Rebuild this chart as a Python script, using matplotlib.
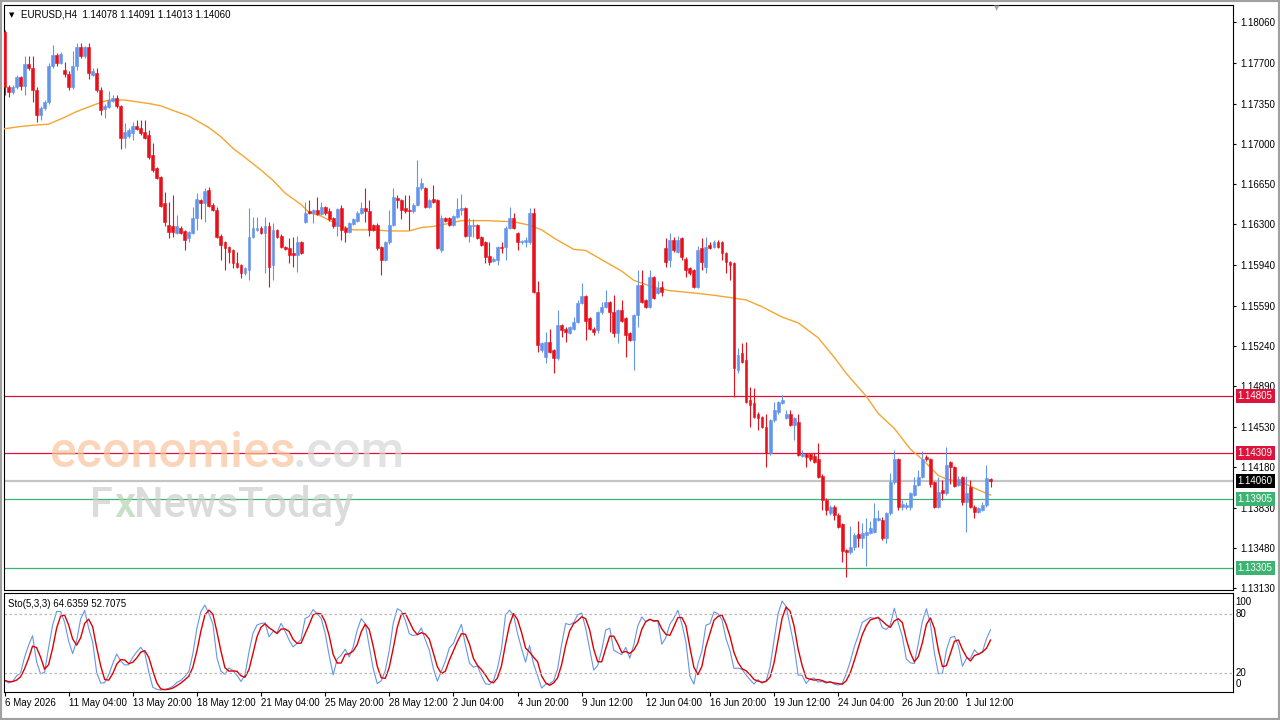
import matplotlib
matplotlib.use('Agg')
import matplotlib.pyplot as plt
import matplotlib.transforms as mtransforms
from matplotlib.patches import Rectangle
import numpy as np
import pandas as pd

plt.rcParams['font.family'] = ['Liberation Sans', 'DejaVu Sans']
plt.rcParams['font.size'] = 7

# EURUSD H4 candles, 6 May 2026 12:00 .. 2 Jul 2026 12:00
opens = [
    1.1797, 1.1749, 1.1745, 1.1749, 1.1758, 1.1750, 1.1769, 1.1766, 1.1747, 1.1725,
    1.1731, 1.1736, 1.1768, 1.1777, 1.1770, 1.1764, 1.1761, 1.1749, 1.1768, 1.1784,
    1.1776, 1.1784, 1.1760, 1.1762, 1.1747, 1.1730, 1.1732, 1.1737, 1.1740, 1.1733,
    1.1705, 1.1707, 1.1709, 1.1715, 1.1714, 1.1710, 1.1708, 1.1690, 1.1679, 1.1671,
    1.1648, 1.1629, 1.1628, 1.1622, 1.1627, 1.1624, 1.1618, 1.1622, 1.1635, 1.1651,
    1.1648, 1.1660, 1.1647, 1.1642, 1.1620, 1.1614, 1.1610, 1.1607, 1.1596, 1.1594,
    1.1587, 1.1590, 1.1619, 1.1625, 1.1627, 1.1622, 1.1628, 1.1594, 1.1625, 1.1620,
    1.1610, 1.1609, 1.1605, 1.1603, 1.1614, 1.1632, 1.1641, 1.1640, 1.1642, 1.1639,
    1.1645, 1.1641, 1.1635, 1.1628, 1.1644, 1.1627, 1.1623, 1.1630, 1.1633, 1.1640,
    1.1644, 1.1641, 1.1629, 1.1629, 1.1610, 1.1599, 1.1614, 1.1629, 1.1653, 1.1651,
    1.1644, 1.1642, 1.1641, 1.1647, 1.1661, 1.1661, 1.1645, 1.1652, 1.1651, 1.1607,
    1.1635, 1.1635, 1.1629, 1.1636, 1.1642, 1.1644, 1.1620, 1.1628, 1.1629, 1.1619,
    1.1614, 1.1602, 1.1598, 1.1599, 1.1610, 1.1610, 1.1627, 1.1635, 1.1622, 1.1614,
    1.1614, 1.1614, 1.1640, 1.1571, 1.1520, 1.1514, 1.1527, 1.1520, 1.1513, 1.1542,
    1.1539, 1.1535, 1.1539, 1.1545, 1.1561, 1.1567, 1.1548, 1.1539, 1.1538, 1.1553,
    1.1558, 1.1562, 1.1553, 1.1535, 1.1555, 1.1548, 1.1535, 1.1529, 1.1551, 1.1577,
    1.1564, 1.1558, 1.1584, 1.1570, 1.1575, 1.1609, 1.1599, 1.1616, 1.1606, 1.1618,
    1.1600, 1.1592, 1.1590, 1.1575, 1.1609, 1.1593, 1.1612, 1.1610, 1.1614, 1.1614,
    1.1605, 1.1597, 1.1596, 1.1503, 1.1518, 1.1512, 1.1477, 1.1474, 1.1465, 1.1462,
    1.1453, 1.1431, 1.1459, 1.1466, 1.1474, 1.1461, 1.1465, 1.1455, 1.1458, 1.1428,
    1.1430, 1.1430, 1.1428, 1.1425, 1.1411, 1.1390, 1.1378, 1.1384, 1.1377, 1.1369,
    1.1346, 1.1344, 1.1349, 1.1360, 1.1357, 1.1359, 1.1361, 1.1362, 1.1372, 1.1372,
    1.1357, 1.1378, 1.1405, 1.1425, 1.1384, 1.1384, 1.1384, 1.1394, 1.1403, 1.1410,
    1.1427, 1.1425, 1.1405, 1.1384, 1.1398, 1.1396, 1.1423, 1.1418, 1.1403, 1.1410,
    1.1388, 1.1401, 1.1384, 1.1379, 1.1381, 1.1385, 1.14078,
]
highs = [
    1.1799, 1.1751, 1.1751, 1.1760, 1.1759, 1.1776, 1.1776, 1.1776, 1.1749, 1.1733,
    1.1738, 1.1770, 1.1786, 1.1779, 1.1780, 1.1771, 1.1763, 1.1781, 1.1788, 1.1788,
    1.1785, 1.1788, 1.1766, 1.1766, 1.1749, 1.1735, 1.1746, 1.1742, 1.1742, 1.1734,
    1.1718, 1.1714, 1.1719, 1.1721, 1.1721, 1.1721, 1.1712, 1.1701, 1.1680, 1.1672,
    1.1658, 1.1649, 1.1655, 1.1638, 1.1628, 1.1625, 1.1624, 1.1645, 1.1657, 1.1652,
    1.1661, 1.1662, 1.1648, 1.1645, 1.1621, 1.1615, 1.1611, 1.1608, 1.1606, 1.1595,
    1.1593, 1.1644, 1.1636, 1.1636, 1.1628, 1.1636, 1.1632, 1.1631, 1.1626, 1.1621,
    1.1611, 1.1618, 1.1619, 1.1620, 1.1615, 1.1649, 1.1651, 1.1643, 1.1654, 1.1649,
    1.1646, 1.1644, 1.1636, 1.1644, 1.1647, 1.1628, 1.1632, 1.1635, 1.1641, 1.1649,
    1.1661, 1.1651, 1.1630, 1.1631, 1.1611, 1.1615, 1.1642, 1.1661, 1.1655, 1.1652,
    1.1655, 1.1655, 1.1648, 1.1686, 1.1670, 1.1662, 1.1652, 1.1664, 1.1652, 1.1638,
    1.1636, 1.1636, 1.1638, 1.1653, 1.1656, 1.1645, 1.1635, 1.1634, 1.1630, 1.1620,
    1.1615, 1.1614, 1.1601, 1.1611, 1.1614, 1.1628, 1.1645, 1.1640, 1.1623, 1.1616,
    1.1619, 1.1644, 1.1644, 1.1580, 1.1527, 1.1536, 1.1539, 1.1521, 1.1555, 1.1543,
    1.1540, 1.1541, 1.1549, 1.1564, 1.1579, 1.1568, 1.1549, 1.1540, 1.1554, 1.1562,
    1.1573, 1.1563, 1.1568, 1.1556, 1.1564, 1.1549, 1.1536, 1.1552, 1.1590, 1.1590,
    1.1565, 1.1590, 1.1585, 1.1580, 1.1580, 1.1618, 1.1622, 1.1619, 1.1620, 1.1619,
    1.1601, 1.1593, 1.1591, 1.1611, 1.1618, 1.1619, 1.1614, 1.1616, 1.1616, 1.1615,
    1.1606, 1.1598, 1.1597, 1.1522, 1.1526, 1.1527, 1.1488, 1.1487, 1.1466, 1.1463,
    1.1465, 1.1460, 1.1475, 1.1476, 1.1481, 1.1468, 1.1468, 1.1462, 1.1465, 1.1433,
    1.1431, 1.1431, 1.1431, 1.1439, 1.1412, 1.1391, 1.1385, 1.1385, 1.1378, 1.1370,
    1.1347, 1.1367, 1.1361, 1.1371, 1.1370, 1.1374, 1.1371, 1.1387, 1.1381, 1.1375,
    1.1379, 1.1413, 1.1433, 1.1426, 1.1390, 1.1388, 1.1397, 1.1410, 1.1416, 1.1432,
    1.1429, 1.1426, 1.1406, 1.1410, 1.1407, 1.1436, 1.1424, 1.1419, 1.1411, 1.1411,
    1.1411, 1.1407, 1.1385, 1.1384, 1.1388, 1.1420, 1.14091,
]
lows = [
    1.1742, 1.1741, 1.1743, 1.1748, 1.1747, 1.1742, 1.1764, 1.1736, 1.1719, 1.1721,
    1.1729, 1.1735, 1.1766, 1.1768, 1.1769, 1.1758, 1.1747, 1.1748, 1.1764, 1.1775,
    1.1775, 1.1756, 1.1759, 1.1745, 1.1725, 1.1722, 1.1731, 1.1736, 1.1731, 1.1695,
    1.1696, 1.1705, 1.1703, 1.1712, 1.1708, 1.1704, 1.1687, 1.1675, 1.1669, 1.1645,
    1.1628, 1.1618, 1.1619, 1.1621, 1.1621, 1.1607, 1.1614, 1.1621, 1.1625, 1.1634,
    1.1632, 1.1645, 1.1641, 1.1618, 1.1599, 1.1590, 1.1596, 1.1592, 1.1592, 1.1583,
    1.1586, 1.1581, 1.1618, 1.1624, 1.1621, 1.1587, 1.1575, 1.1581, 1.1618, 1.1609,
    1.1607, 1.1596, 1.1593, 1.1588, 1.1604, 1.1631, 1.1639, 1.1631, 1.1638, 1.1638,
    1.1638, 1.1633, 1.1627, 1.1620, 1.1616, 1.1614, 1.1622, 1.1629, 1.1632, 1.1639,
    1.1632, 1.1620, 1.1624, 1.1607, 1.1586, 1.1598, 1.1613, 1.1628, 1.1644, 1.1634,
    1.1640, 1.1625, 1.1640, 1.1646, 1.1660, 1.1644, 1.1644, 1.1648, 1.1608, 1.1606,
    1.1632, 1.1628, 1.1628, 1.1635, 1.1638, 1.1619, 1.1614, 1.1619, 1.1617, 1.1611,
    1.1596, 1.1594, 1.1597, 1.1594, 1.1605, 1.1599, 1.1626, 1.1626, 1.1607, 1.1613,
    1.1610, 1.1613, 1.1570, 1.1519, 1.1519, 1.1509, 1.1518, 1.1500, 1.1512, 1.1532,
    1.1527, 1.1534, 1.1538, 1.1544, 1.1560, 1.1529, 1.1538, 1.1533, 1.1535, 1.1552,
    1.1557, 1.1536, 1.1532, 1.1526, 1.1545, 1.1514, 1.1528, 1.1503, 1.1540, 1.1561,
    1.1557, 1.1557, 1.1565, 1.1569, 1.1567, 1.1593, 1.1593, 1.1606, 1.1605, 1.1599,
    1.1584, 1.1586, 1.1574, 1.1574, 1.1590, 1.1587, 1.1608, 1.1609, 1.1609, 1.1599,
    1.1587, 1.1581, 1.1479, 1.1500, 1.1509, 1.1474, 1.1453, 1.1461, 1.1451, 1.1452,
    1.1418, 1.1429, 1.1458, 1.1465, 1.1473, 1.1460, 1.1454, 1.1442, 1.1428, 1.1427,
    1.1418, 1.1424, 1.1422, 1.1409, 1.1381, 1.1377, 1.1377, 1.1372, 1.1365, 1.1336,
    1.1323, 1.1343, 1.1346, 1.1349, 1.1348, 1.1332, 1.1360, 1.1361, 1.1371, 1.1355,
    1.1352, 1.1377, 1.1404, 1.1381, 1.1381, 1.1382, 1.1381, 1.1393, 1.1402, 1.1409,
    1.1424, 1.1401, 1.1383, 1.1383, 1.1390, 1.1394, 1.1404, 1.1401, 1.1402, 1.1385,
    1.1362, 1.1383, 1.1374, 1.1378, 1.1380, 1.1384, 1.14013,
]
closes = [
    1.1749, 1.1745, 1.1749, 1.1758, 1.1750, 1.1769, 1.1766, 1.1747, 1.1725, 1.1731,
    1.1736, 1.1768, 1.1777, 1.1770, 1.1778, 1.1761, 1.1749, 1.1768, 1.1784, 1.1776,
    1.1784, 1.1762, 1.1763, 1.1747, 1.1729, 1.1733, 1.1738, 1.1740, 1.1733, 1.1705,
    1.1710, 1.1712, 1.1715, 1.1713, 1.1709, 1.1705, 1.1688, 1.1677, 1.1670, 1.1646,
    1.1632, 1.1623, 1.1623, 1.1628, 1.1622, 1.1616, 1.1623, 1.1635, 1.1652, 1.1648,
    1.1659, 1.1646, 1.1642, 1.1619, 1.1612, 1.1609, 1.1606, 1.1596, 1.1593, 1.1587,
    1.1592, 1.1619, 1.1627, 1.1627, 1.1622, 1.1628, 1.1593, 1.1625, 1.1619, 1.1610,
    1.1608, 1.1603, 1.1603, 1.1614, 1.1605, 1.1640, 1.1640, 1.1642, 1.1639, 1.1645,
    1.1640, 1.1634, 1.1628, 1.1643, 1.1625, 1.1623, 1.1631, 1.1634, 1.1640, 1.1644,
    1.1641, 1.1625, 1.1625, 1.1609, 1.1599, 1.1614, 1.1629, 1.1654, 1.1651, 1.1642,
    1.1641, 1.1641, 1.1647, 1.1662, 1.1666, 1.1645, 1.1651, 1.1649, 1.1609, 1.1635,
    1.1633, 1.1629, 1.1637, 1.1643, 1.1644, 1.1620, 1.1629, 1.1629, 1.1618, 1.1612,
    1.1601, 1.1597, 1.1600, 1.1610, 1.1609, 1.1627, 1.1635, 1.1627, 1.1614, 1.1615,
    1.1616, 1.1640, 1.1571, 1.1525, 1.1526, 1.1527, 1.1519, 1.1513, 1.1542, 1.1538,
    1.1536, 1.1540, 1.1545, 1.1561, 1.1567, 1.1546, 1.1539, 1.1536, 1.1553, 1.1558,
    1.1562, 1.1553, 1.1535, 1.1555, 1.1546, 1.1533, 1.1529, 1.1551, 1.1577, 1.1562,
    1.1558, 1.1584, 1.1566, 1.1574, 1.1571, 1.1597, 1.1616, 1.1607, 1.1616, 1.1601,
    1.1590, 1.1587, 1.1575, 1.1607, 1.1597, 1.1610, 1.1609, 1.1614, 1.1610, 1.1605,
    1.1597, 1.1594, 1.1505, 1.1516, 1.1510, 1.1475, 1.1472, 1.1462, 1.1461, 1.1453,
    1.1431, 1.1459, 1.1468, 1.1475, 1.1477, 1.1465, 1.1455, 1.1461, 1.1429, 1.1430,
    1.1427, 1.1425, 1.1423, 1.1410, 1.1390, 1.1381, 1.1384, 1.1377, 1.1366, 1.1345,
    1.1344, 1.1349, 1.1359, 1.1357, 1.1361, 1.1362, 1.1365, 1.1374, 1.1374, 1.1357,
    1.1378, 1.1405, 1.1425, 1.1384, 1.1386, 1.1385, 1.1396, 1.1403, 1.1410, 1.1425,
    1.1425, 1.1404, 1.1384, 1.1397, 1.1396, 1.1420, 1.1418, 1.1402, 1.1408, 1.1388,
    1.1396, 1.1384, 1.1379, 1.1383, 1.1385, 1.1409, 1.14060,
]

# moving average (bar index, price)
ma_bars = [0, 4, 7, 11, 15, 18, 21, 24, 26, 30, 32, 36, 39, 42, 46, 49, 51, 54, 57, 60,
           64, 67, 70, 74, 76, 79, 84, 87, 92, 96, 101, 104, 107, 110, 114, 120, 127, 131,
           134, 137, 142, 145, 149, 154, 157, 162, 166, 172, 177, 181, 185, 189, 194, 198,
           203, 207, 210, 215, 218, 222, 226, 229, 233, 235, 239, 242, 246]
ma_values = [1.1713, 1.1715, 1.1716, 1.1717, 1.1723, 1.1728, 1.1732, 1.1736, 1.1738, 1.1738,
             1.1737, 1.1735, 1.1733, 1.1729, 1.1724, 1.1718, 1.1714, 1.1706, 1.1696, 1.1688,
             1.1677, 1.1668, 1.1657, 1.1647, 1.1640, 1.1637, 1.1628, 1.1625, 1.1625, 1.1624,
             1.1624, 1.1627, 1.1628, 1.1630, 1.1633, 1.1633, 1.1632, 1.1629, 1.1625, 1.1618,
             1.1608, 1.1607, 1.1599, 1.1589, 1.1581, 1.1575, 1.1572, 1.1570, 1.1568, 1.1566,
             1.1564, 1.1558, 1.1549, 1.1544, 1.1531, 1.1514, 1.1500, 1.1480, 1.1465, 1.1452,
             1.1434, 1.1425, 1.1411, 1.1408, 1.1405, 1.1400, 1.1394]

date_bars = [0, 16, 32, 48, 64, 80, 96, 112, 128, 144, 160, 176, 192, 208, 224, 240]
date_labels = ['6 May 2026', '11 May 04:00', '13 May 20:00', '18 May 12:00', '21 May 04:00',
               '25 May 20:00', '28 May 12:00', '2 Jun 04:00', '4 Jun 20:00', '9 Jun 12:00',
               '12 Jun 04:00', '16 Jun 20:00', '19 Jun 12:00', '24 Jun 04:00', '26 Jun 20:00',
               '1 Jul 12:00']
price_ticks = [1.18060, 1.17700, 1.17350, 1.17000, 1.16650, 1.16300, 1.15940, 1.15590,
               1.15240, 1.14890, 1.14530, 1.14180, 1.13830, 1.13480, 1.13130]
level_prices = [1.14805, 1.14309, 1.13905, 1.13305]
level_colors = ['#DC143C', '#DC143C', '#3CB371', '#3CB371']
last_price = 1.14060

BULL = '#6495ED'
BEAR = '#E8101A'

# Sto(5,3,3)
df = pd.DataFrame({'h': highs, 'l': lows, 'c': closes})
hh = df['h'].rolling(5, min_periods=1).max()
ll = df['l'].rolling(5, min_periods=1).min()
k_line = 100 * (df['c'] - ll).rolling(3, min_periods=1).sum() / (hh - ll).rolling(3, min_periods=1).sum()
d_line = k_line.rolling(3, min_periods=1).mean()

fig = plt.figure(figsize=(12.8, 7.2), dpi=100)
fig.patch.set_facecolor('white')
ax = fig.add_axes([4 / 1280, 1 - 590 / 720, 1229 / 1280, 585 / 720])
ax2 = fig.add_axes([4 / 1280, 1 - 692 / 720, 1229 / 1280, 99 / 720])
xlim = (-0.125, 306.5)

x = np.arange(len(closes))
o = np.array(opens)
c = np.array(closes)
cols = np.where(c >= o, BULL, BEAR)
ax.vlines(x, lows, highs, colors=cols, linewidth=0.8, zorder=3)
ax.bar(x, c - o, bottom=o, width=0.72, color=cols, edgecolor=cols, linewidth=0.4, zorder=3)
ax.plot(ma_bars, ma_values, color='#F5A530', linewidth=1.0, zorder=2.8)

for p, col in zip(level_prices, level_colors):
    ax.axhline(p, color=col, linewidth=0.9, zorder=2)
ax.axhline(last_price, color='#C4C4C4', linewidth=1.6, zorder=2)

ax.set_xlim(*xlim)
ax.set_ylim(1.13113, 1.18208)
ax.set_xticks([])
ax.yaxis.tick_right()
ax.set_yticks(price_ticks)
ax.set_yticklabels([f'{v:.5f}' for v in price_ticks])
ax.tick_params(axis='y', direction='out', length=2.5, width=0.8, pad=2.5, labelsize=7, colors='black')
for s in ax.spines.values():
    s.set_linewidth(0.8)
    s.set_color('black')

trans = mtransforms.blended_transform_factory(ax.transAxes, ax.transData)
for p, col in list(zip(level_prices, level_colors)) + [(last_price, 'black')]:
    ax.text(1.0038, p, f'{p:.5f}', transform=trans, color='white', ha='left', va='center',
            fontsize=7, clip_on=False, zorder=6,
            bbox=dict(boxstyle='square,pad=0.22', fc=col, ec='none'))

ax.text(0.0065, 0.983, '\u25bc', transform=ax.transAxes, fontsize=5, family='DejaVu Sans',
        ha='center', va='center', color='black')
ax.text(0.0138, 0.983, 'EURUSD,H4  1.14078 1.14091 1.14013 1.14060', transform=ax.transAxes,
        fontsize=7, ha='left', va='center', color='black')

# watermark
wm = dict(transform=ax.transAxes, alpha=0.7, ha='left', va='baseline', zorder=4,
          family=['Roboto', 'Liberation Sans'], fontweight='medium')
ax.text(0.0374, 0.2103, 'economies', fontsize=36, color='#FAC49C', **wm)
ax.text(0.2352, 0.2103, '.com', fontsize=36, color='#D6D6D6', **wm)
ax.text(0.0700, 0.1248, 'F', fontsize=30, color='#CDCDCD', **wm)
ax.text(0.0895, 0.1248, 'x', fontsize=30, color='#B0D4B0', **wm)
ax.text(0.1058, 0.1248, 'NewsToday', fontsize=30, color='#CDCDCD', **wm)

# stochastic panel
ax2.plot(x, k_line, color=BULL, linewidth=0.8)
ax2.plot(x, d_line, color='#E00000', linewidth=1.0)
for lvl in (80, 20):
    ax2.axhline(lvl, color='#B8B8B8', linewidth=0.9, linestyle=(0, (2, 2)))
ax2.set_xlim(*xlim)
ax2.set_ylim(0.3, 101.5)
ax2.set_yticks([])
ax2.set_xticks(date_bars)
ax2.set_xticklabels(date_labels)
for lab in ax2.get_xticklabels():
    lab.set_ha('left')
ax2.tick_params(axis='x', direction='out', length=3, width=0.8, pad=1.5, labelsize=7, colors='black')
for s in ax2.spines.values():
    s.set_linewidth(0.8)
    s.set_color('black')
ax2.text(0.0033, 0.889, 'Sto(5,3,3) 64.6359 52.7075', transform=ax2.transAxes, fontsize=7,
         ha='left', va='center', color='black')
trans2 = mtransforms.blended_transform_factory(ax2.transAxes, ax2.transData)
for lbl, yv in (('100', 92.3), ('80', 80), ('20', 20), ('0', 8.5)):
    ax2.text(1.0018, yv, lbl, transform=trans2, fontsize=7, ha='left', va='center', clip_on=False)

fig.text(997 / 1280, 1 - 8 / 720, '\u25bc', fontsize=5, color='#A8A8A8', family='DejaVu Sans',
         ha='center', va='center')
fig.patches.append(Rectangle((0, 0), 1, 1, transform=fig.transFigure, fill=False,
                             edgecolor='#A0A0A0', linewidth=3))

fig.savefig('out.png', dpi=100)
